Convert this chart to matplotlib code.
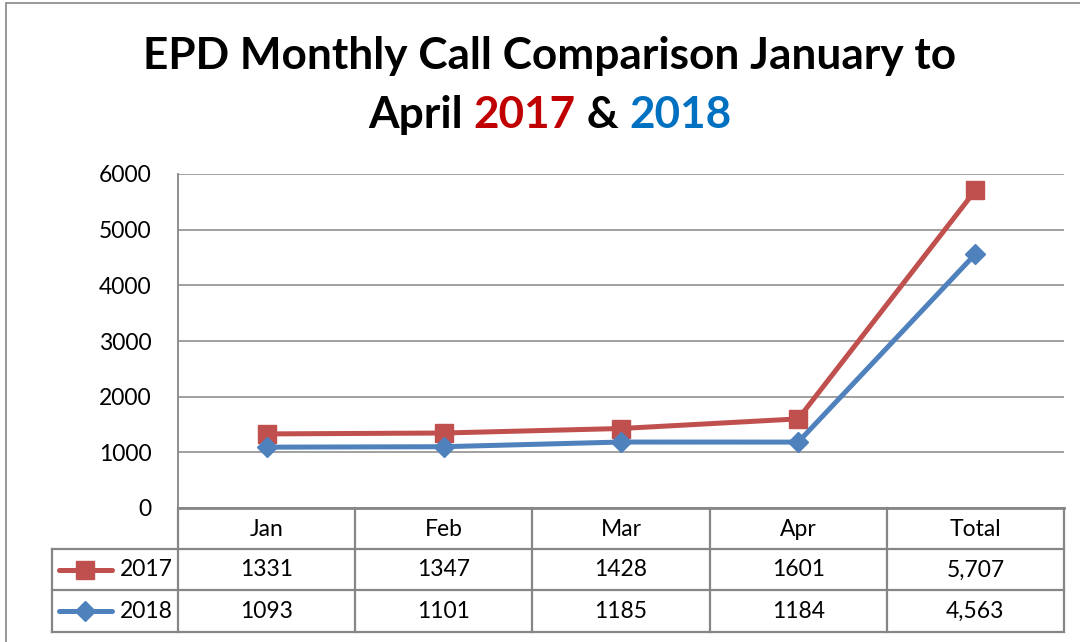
import matplotlib
matplotlib.use("Agg")
import matplotlib.pyplot as plt
from matplotlib.patches import Rectangle
from matplotlib.lines import Line2D
from matplotlib import transforms

categories = ["Jan", "Feb", "Mar", "Apr", "Total"]
series_names = ["2017", "2018"]
calls_2017 = [1331, 1347, 1428, 1601, 5707]
calls_2018 = [1093, 1101, 1185, 1184, 4563]
table_2017 = ["1331", "1347", "1428", "1601", "5,707"]
table_2018 = ["1093", "1101", "1185", "1184", "4,563"]
y_ticks = [0, 1000, 2000, 3000, 4000, 5000, 6000]
title_line1 = "EPD Monthly Call Comparison January to"
title_line2 = [("April ", "black"), ("2017", "#C00000"), (" & ", "black"), ("2018", "#0070C0")]

plt.rcParams['font.family'] = ['Lato', 'DejaVu Sans']

W, H = 1080, 642
fig = plt.figure(figsize=(W / 100, H / 100), dpi=100)


def fx(px):
    return px / W


def fy(py):
    return 1 - py / H


GRID = "#868686"
RED = "#C0504D"
BLUE = "#4F81BD"
FS = 16.5
TFS = 31.8

# outer chart border (cropped on right/bottom)
fig.patches.append(Rectangle((fx(6), fy(H + 20)), fx(W + 40), fy(3) - fy(H + 20),
                             transform=fig.transFigure, fill=False,
                             edgecolor=GRID, lw=1.2))

ax = fig.add_axes([fx(178), fy(508), fx(1064 - 178), (508 - 174) / H])
x = list(range(len(categories)))
ax.plot(x, calls_2017, color=RED, lw=3.6, marker='s', ms=13.5, zorder=3, clip_on=False)
ax.plot(x, calls_2018, color=BLUE, lw=3.6, marker='D', ms=10, zorder=4, clip_on=False)
ax.set_xlim(-0.5, len(categories) - 0.5)
ax.set_ylim(y_ticks[0], y_ticks[-1])
ax.set_yticks(y_ticks)
ax.set_yticklabels([str(v) for v in y_ticks])
ax.set_xticks([])
ax.grid(axis='y', color=GRID, lw=1.1)
ax.set_axisbelow(True)
for s in ('top', 'right'):
    ax.spines[s].set_visible(False)
ax.spines['left'].set_color(GRID)
ax.spines['left'].set_linewidth(1.3)
ax.spines['bottom'].set_color(GRID)
ax.spines['bottom'].set_linewidth(2)
ax.tick_params(axis='y', length=0, pad=19, labelsize=FS)

# data table
bt = transforms.blended_transform_factory(ax.transData, fig.transFigure)
TL = 1.6
for yy in (549, 590, 632):
    fig.add_artist(Line2D([fx(52), fx(1064)], [fy(yy), fy(yy)], transform=fig.transFigure,
                          color=GRID, lw=TL))
for i in range(len(categories) + 1):
    fig.add_artist(Line2D([i - 0.5, i - 0.5], [fy(508), fy(632)], transform=bt,
                          color=GRID, lw=TL))
fig.add_artist(Line2D([fx(52), fx(52)], [fy(549), fy(632)], transform=fig.transFigure,
                      color=GRID, lw=TL))

for i, c in enumerate(categories):
    fig.text(i, fy(529), c, transform=bt, ha='center', va='center', fontsize=FS)
    fig.text(i, fy(570), table_2017[i], transform=bt, ha='center', va='center', fontsize=FS)
    fig.text(i, fy(611), table_2018[i], transform=bt, ha='center', va='center', fontsize=FS)

# legend keys in table
for yy, col, mk, ms, name in ((570, RED, 's', 13.5, series_names[0]),
                              (611, BLUE, 'D', 10, series_names[1])):
    fig.add_artist(Line2D([fx(59), fx(112)], [fy(yy), fy(yy)], transform=fig.transFigure,
                          color=col, lw=3.6, solid_capstyle='round'))
    fig.add_artist(Line2D([fx(85)], [fy(yy)], transform=fig.transFigure,
                          color=col, marker=mk, ms=ms, lw=0))
    fig.text(fx(173), fy(yy), name, ha='right', va='center', fontsize=FS)

# title
fig.text(fx(550), fy(69), title_line1, ha='center', va='baseline',
         fontsize=TFS, fontweight='bold')
parts = []
for s, col in title_line2:
    parts.append(fig.text(0, fy(128), s, ha='left', va='baseline',
                          fontsize=TFS, fontweight='bold', color=col))
fig.canvas.draw()
r = fig.canvas.get_renderer()
widths = [p.get_window_extent(r).width for p in parts]
start = 550 - sum(widths) / 2
for p, w in zip(parts, widths):
    p.set_x(fx(start))
    start += w

fig.savefig("out.png", dpi=100)
